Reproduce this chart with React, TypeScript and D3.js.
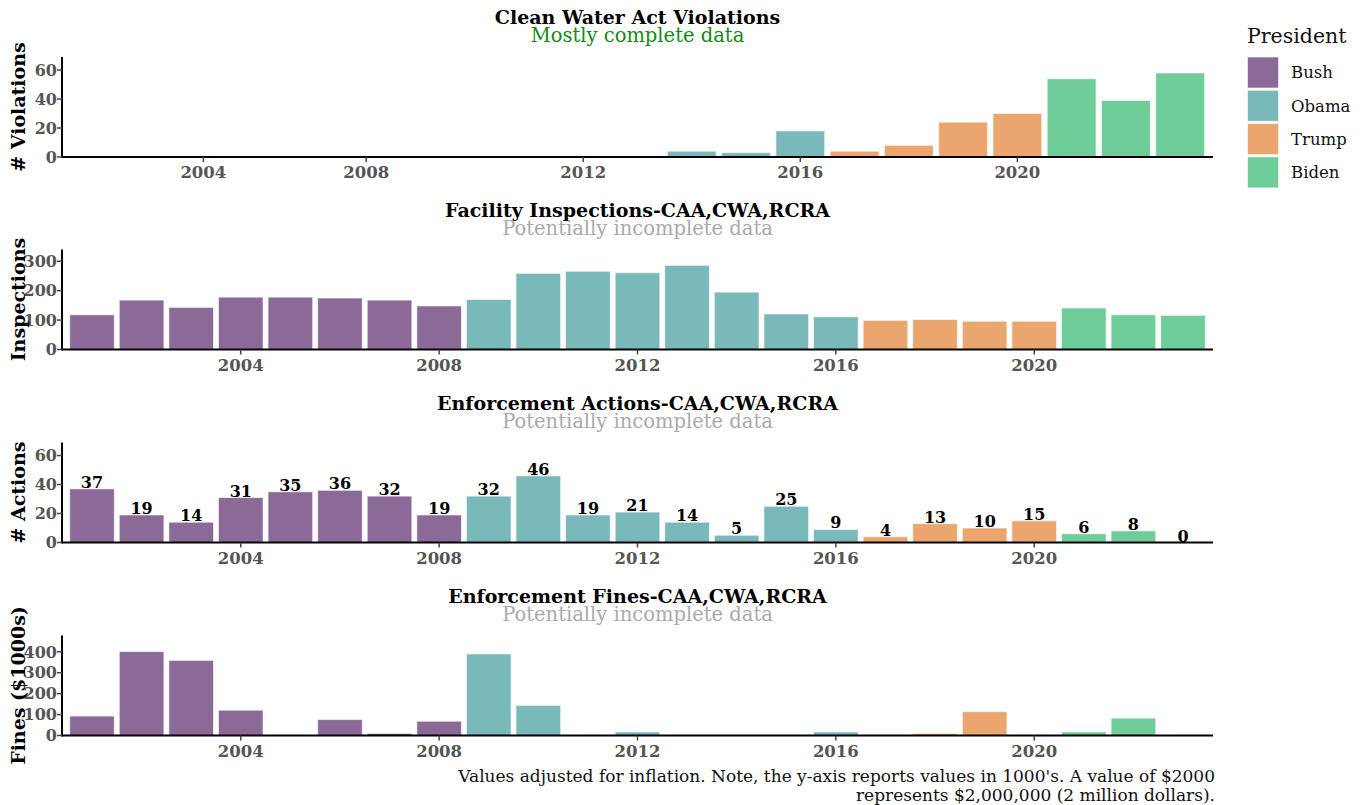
import * as d3 from 'd3';

// presidents and their colours
const presidents = ['Bush', 'Obama', 'Trump', 'Biden'];
const presidentColors = ['#8c6a97', '#7ab9b9', '#eba670', '#6fcd9a'];
const firstYearOfTerm = [2001, 2009, 2017, 2021];

// Clean Water Act violations (the x axis of this panel has no 2005 category)
const violationYears = [2002, 2003, 2004, 2006, 2007, 2008, 2009, 2010, 2011, 2012, 2013,
  2014, 2015, 2016, 2017, 2018, 2019, 2020, 2021, 2022, 2023];
const violations = [0, 0, 0, 0, 0, 0, 0, 0, 0, 0, 0,
  4, 3, 18, 4, 8, 24, 30, 54, 39, 58];

// CAA, CWA, RCRA series
const years = [2001, 2002, 2003, 2004, 2005, 2006, 2007, 2008, 2009, 2010, 2011, 2012,
  2013, 2014, 2015, 2016, 2017, 2018, 2019, 2020, 2021, 2022, 2023];
const inspections = [118, 168, 143, 178, 178, 175, 168, 148, 170, 259, 266, 261,
  286, 195, 121, 111, 99, 102, 96, 96, 141, 118, 116];
const actions = [37, 19, 14, 31, 35, 36, 32, 19, 32, 46, 19, 21,
  14, 5, 25, 9, 4, 13, 10, 15, 6, 8, 0];
const fines = [93, 401, 359, 121, 0, 76, 10, 68, 390, 144, 0, 17,
  0, 0, 0, 17, 5, 10, 114, 0, 17, 83, 0];

const xTickYears = [2004, 2008, 2012, 2016, 2020];
const violationTicks = [0, 20, 40, 60];
const inspectionTicks = [0, 100, 200, 300];
const actionTicks = [0, 20, 40, 60];
const fineTicks = [0, 100, 200, 300, 400];

const footerLines = [
  "Values adjusted for inflation. Note, the y-axis reports values in 1000's. A value of $2000",
  'represents $2,000,000 (2 million dollars).',
];

const FONT = '"DejaVu Serif", serif';

function colorOf(year: number) {
  let idx = 0;
  firstYearOfTerm.forEach((y, i) => {
    if (year >= y) idx = i;
  });
  return presidentColors[idx];
}

const left = 62;
const right = 1213;

type PanelProps = {
  top: number;
  title: string;
  subtitle: string;
  subColor: string;
  yTitle: string;
  cats: number[];
  values: number[];
  yMax: number;
  yTicks: number[];
  labels?: boolean;
};

function Panel({ top, title, subtitle, subColor, yTitle, cats, values, yMax, yTicks, labels }: PanelProps) {
  const height = 100;
  const bottom = top + height;
  const x = d3.scaleBand<number>().domain(cats).range([left, right]).paddingInner(0.1).paddingOuter(0.155);
  const y = d3.scaleLinear().domain([0, yMax]).range([bottom, top]);
  const cx = (left + right) / 2;
  return (
    <g>
      <text x={cx} y={top - 33} textAnchor="middle" fontFamily={FONT} fontWeight="bold" fontSize={19} fill="#000">
        {title}
      </text>
      <text x={cx} y={top - 15} textAnchor="middle" fontFamily={FONT} fontSize={19.5} fill={subColor}>
        {subtitle}
      </text>
      {cats.map((c, i) => {
        const v = values[i];
        if (v <= 0) return null;
        return (
          <rect
            key={c}
            x={x(c)}
            y={y(v)}
            width={x.bandwidth()}
            height={bottom - y(v)}
            fill={colorOf(c)}
            stroke="#fff"
            strokeOpacity={0.6}
            strokeWidth={1}
          />
        );
      })}
      {labels &&
        cats.map((c, i) => (
          <text
            key={'l' + c}
            x={(x(c) as number) + x.bandwidth() / 2}
            y={y(values[i]) - 1}
            textAnchor="middle"
            fontFamily={FONT}
            fontWeight="bold"
            fontSize={16}
            fill="#000"
          >
            {values[i]}
          </text>
        ))}
      {/* axes */}
      <line x1={left} x2={right} y1={bottom} y2={bottom} stroke="#000" strokeWidth={2} />
      <line x1={left} x2={left} y1={top} y2={bottom + 1} stroke="#000" strokeWidth={2} />
      {yTicks.map((t) => (
        <g key={'y' + t}>
          <line x1={left - 5} x2={left} y1={y(t)} y2={y(t)} stroke="#444" strokeWidth={1.5} />
          <text
            x={left - 5}
            y={y(t)}
            dy="0.36em"
            textAnchor="end"
            fontFamily={FONT}
            fontWeight="bold"
            fontSize={16}
            fill="#555"
          >
            {t}
          </text>
        </g>
      ))}
      {xTickYears.map((t) => {
        const px = (x(t) as number) + x.bandwidth() / 2;
        return (
          <g key={'x' + t}>
            <line x1={px} x2={px} y1={bottom} y2={bottom + 5} stroke="#444" strokeWidth={1.5} />
            <text x={px} y={bottom + 21} textAnchor="middle" fontFamily={FONT} fontWeight="bold" fontSize={16.5} fill="#555">
              {t}
            </text>
          </g>
        );
      })}
      <text
        transform={`translate(18,${(top + bottom) / 2}) rotate(-90)`}
        textAnchor="middle"
        dominantBaseline="central"
        fontFamily={FONT}
        fontWeight="bold"
        fontSize={19}
        fill="#000"
      >
        {yTitle}
      </text>
    </g>
  );
}

export default function App() {
  const legendY = 57;
  const step = 33.3;
  return (
    <svg width={1364} height={805} style={{ position: 'absolute', left: 0, top: 0, background: '#fff' }}>
      <Panel
        top={57}
        title="Clean Water Act Violations"
        subtitle="Mostly complete data"
        subColor="#138a13"
        yTitle="# Violations"
        cats={violationYears}
        values={violations}
        yMax={69}
        yTicks={violationTicks}
      />
      <Panel
        top={249.5}
        title="Facility Inspections-CAA,CWA,RCRA"
        subtitle="Potentially incomplete data"
        subColor="#aaa"
        yTitle="Inspections"
        cats={years}
        values={inspections}
        yMax={340}
        yTicks={inspectionTicks}
      />
      <Panel
        top={442.5}
        title="Enforcement Actions-CAA,CWA,RCRA"
        subtitle="Potentially incomplete data"
        subColor="#aaa"
        yTitle="# Actions"
        cats={years}
        values={actions}
        yMax={69}
        yTicks={actionTicks}
        labels
      />
      <Panel
        top={635.5}
        title="Enforcement Fines-CAA,CWA,RCRA"
        subtitle="Potentially incomplete data"
        subColor="#aaa"
        yTitle="Fines ($1000s)"
        cats={years}
        values={fines}
        yMax={478}
        yTicks={fineTicks}
      />
      {/* legend */}
      <text x={1247} y={43} fontFamily={FONT} fontSize={20.5} fill="#111">
        President
      </text>
      {presidents.map((p, i) => (
        <g key={p}>
          <rect
            x={1247.5}
            y={legendY + i * step}
            width={31}
            height={31}
            fill={presidentColors[i]}
            stroke="#fff"
            strokeOpacity={0.6}
          />
          <text
            x={1291}
            y={legendY + i * step + 15.5}
            dy="0.35em"
            fontFamily={FONT}
            fontSize={16.5}
            fill="#111"
          >
            {p}
          </text>
        </g>
      ))}
      {footerLines.map((l, i) => (
        <text key={i} x={1215} y={782 + i * 19} textAnchor="end" fontFamily={FONT} fontSize={17} fill="#111">
          {l}
        </text>
      ))}
    </svg>
  );
}
